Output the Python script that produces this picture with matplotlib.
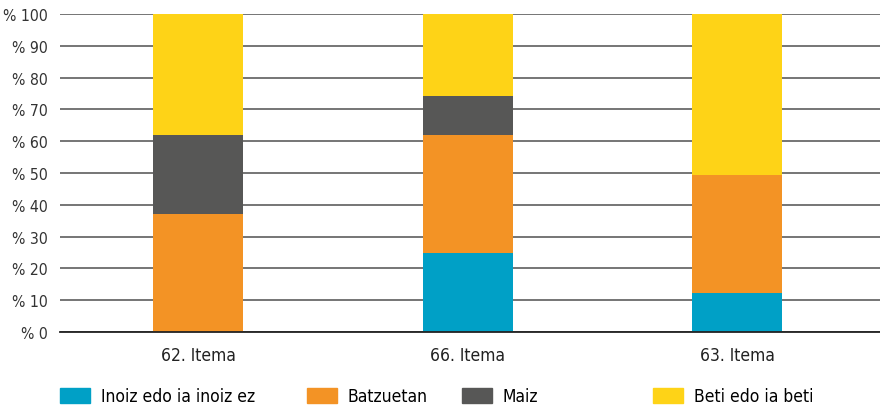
import matplotlib
matplotlib.use("Agg")
import matplotlib.pyplot as plt
from matplotlib.patches import Patch
import numpy as np

plt.rcParams['font.family'] = ['DejaVu Sans']
plt.rcParams['font.stretch'] = 'condensed'

categories = ["62. Itema", "66. Itema", "63. Itema"]
series_names = ["Inoiz edo ia inoiz ez", "Batzuetan", "Maiz", "Beti edo ia beti"]
inoiz = [0, 25, 12.3]
batzuetan = [37.1, 37, 37.2]
maiz = [24.9, 12.2, 0]
beti = [38, 25.8, 50.5]
colors = ["#00A0C6", "#F39325", "#575756", "#FED317"]
yticks = [0, 10, 20, 30, 40, 50, 60, 70, 80, 90, 100]
ytick_labels = ["% " + str(v) for v in yticks]

fig = plt.figure(figsize=(8.8, 4.1), dpi=100)
ax = fig.add_axes([60/880, 1-333/410, 820/880, 318/410])

x = np.arange(len(categories))
bottom = np.zeros(len(categories))
for vals, col in zip([inoiz, batzuetan, maiz, beti], colors):
    ax.bar(x, vals, 0.334, bottom=bottom, color=col, zorder=3)
    bottom += np.array(vals)

ax.set_xlim(-0.512, 2.53)
ax.set_ylim(0, 100)
ax.set_yticks(yticks)
ax.set_yticklabels(ytick_labels, fontsize=11.3, color="#333333")
ax.set_xticks(x)
ax.set_xticklabels(categories, fontsize=12.5, color="#222222")
ax.tick_params(axis='both', length=0)
ax.tick_params(axis='y', pad=9)
ax.tick_params(axis='x', pad=10)
ax.yaxis.grid(True, color="#6a6a6a", linewidth=1.3, zorder=0)
for s in ["top", "right", "left"]:
    ax.spines[s].set_visible(False)
ax.spines["bottom"].set_color("#222222")
ax.spines["bottom"].set_linewidth(1.3)
ax.spines["bottom"].set_zorder(4)

legend_x = [60, 307, 462, 653]
for name, col, lx in zip(series_names, colors, legend_x):
    fig.legend(handles=[Patch(color=col)], labels=[name],
               loc="center left", bbox_to_anchor=(lx/880, 1-397/410),
               frameon=False, fontsize=12.5, handlelength=1.75, handleheight=0.95,
               handletextpad=0.6, borderaxespad=0, borderpad=0)

fig.savefig("out.png", dpi=100)
